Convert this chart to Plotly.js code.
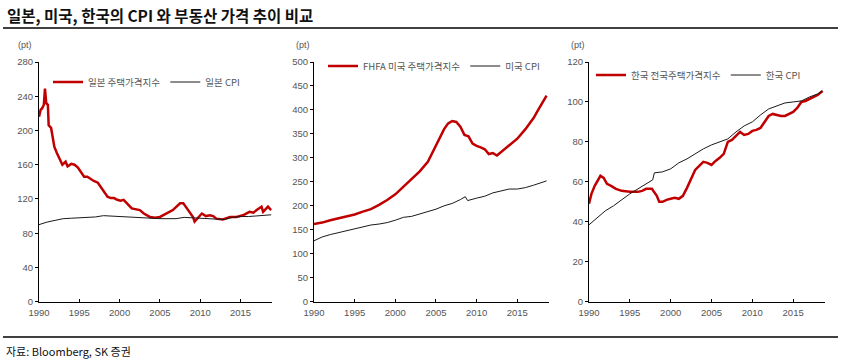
<!DOCTYPE html>
<html><head><meta charset="utf-8">
<script src="https://cdn.plot.ly/plotly-3.0.1.min.js"></script>
<style>html,body{margin:0;padding:0;background:#fff;}#chart{width:843px;height:363px;}</style>
</head><body><div id="chart"></div>
<script>
// ---------- Data (decimal years) ----------
const jpHouseX = [1990.0,1990.2,1990.4,1990.6,1990.74,1990.9,1991.1,1991.2,1991.5,1991.7,1991.9,1992.2,1992.5,1992.9,1993.3,1993.55,1994.0,1994.4,1994.8,1995.2,1995.6,1996.0,1996.4,1996.8,1997.3,1997.7,1998.1,1998.5,1998.9,1999.3,1999.7,2000.1,2000.5,2000.9,2001.5,2002.5,2003.0,2003.75,2004.4,2005.0,2005.8,2006.6,2007.5,2007.9,2008.5,2009.1,2009.3,2009.7,2010.2,2010.7,2011.2,2011.6,2012.0,2012.8,2013.7,2014.5,2015.3,2016.1,2016.6,2017.0,2017.6,2017.8,2018.1,2018.4,2018.8];
const jpHouse  = [216,224,226,230,249,232,230,206,203,189,181,174,168,160,163.5,158,161,160,157,152,146,146,143,141,139,133,128,122.6,121,121,119,118,119,115,109,107,103,99,98,99,103,107,115,115,107,99,93.5,98,103,100,101,100,97,96,99,99,101,105,104,107,111,105,108,111,107];
const jpCpiX = [1990,1991,1992,1993,1994,1995,1996,1997,1998,1999,2000,2001,2002,2003,2004,2005,2006,2007,2008,2009,2010,2011,2012,2013,2014,2015,2016,2017,2018,2018.8];
const jpCpi  = [90,93,95,97,97.5,98,98,99,100.5,100,99.5,99,98,97.5,97,97,97,97,98.5,98,97,97,96.5,96,98.5,99.5,99.5,100,101,101.5];

const usHouseX = [1990,1991,1992,1993,1994,1995,1996,1997,1998,1999,2000,2001,2002,2003,2004,2005,2006,2006.5,2007,2007.5,2008,2008.5,2009,2009.5,2010,2010.5,2011,2011.5,2012,2012.5,2013,2014,2015,2016,2017,2017.5,2018,2018.6];
const usHouse  = [162,165,170,174,178,182,188,193,202,212,224,240,257,272,292,325,360,372,377,375,365,348,345,330,325,322,318,308,310,305,312,325,340,360,383,398,412,430];
const usCpiX = [1990,1991,1992,1993,1994,1995,1996,1997,1998,1999,2000,2001,2002,2003,2004,2005,2006,2007,2008,2008.6,2008.9,2009.5,2010,2011,2012,2013,2014,2015,2016,2017,2018,2018.6];
const usCpi  = [127,135,140,144,148,152,156,160,162,165,170,176,178,183,187,193,200,205,213,219,211,213,216,220,227,231,235,235,238,243,249,252];

const krHouseX = [1990,1990.3,1990.7,1991.0,1991.4,1991.8,1992.2,1992.7,1993.3,1994,1995,1996,1996.5,1997,1997.7,1998.3,1998.6,1999,1999.5,2000,2000.5,2001,2001.5,2002,2002.5,2003,2003.5,2004,2004.5,2005,2005.5,2006,2006.5,2007,2007.5,2008,2008.5,2009,2009.5,2010,2010.5,2011,2011.5,2012,2012.5,2013,2013.5,2014,2014.5,2015,2015.5,2016,2016.5,2017,2017.5,2018,2018.6];
const krHouse  = [49,54,58,60,63,62,59,58,56.5,55.5,55,55,55.5,56.5,56.5,53,50,50,51,51.5,52,51.5,53,57,62,66,68,70,69.5,68.5,70.5,72,74,80,81,83,85,83.5,84,85.5,86,87,90,93,94,93.5,93,93,94,95,97,100,100.5,101.5,102.5,103.5,105.5];
const krCpiX = [1990,1991,1992,1993,1994,1995,1996,1997,1997.8,1998.0,1999,2000,2001,2002,2003,2004,2005,2006,2007,2008,2009,2010,2011,2012,2013,2014,2015,2016,2017,2018,2018.6];
const krCpi  = [38.5,42,45.5,48,51,54,56.5,59,61,64.5,65,66.5,69.5,71.5,74,76.5,78.5,80,81.5,85,88,90,93.5,96.5,98,99.5,100,100.5,102.5,104,105.5];

const names = ["일본 주택가격지수","일본 CPI","FHFA 미국 주택가격지수","미국 CPI","한국 전국주택가격지수","한국 CPI"];
const xTicks = [1990,1995,2000,2005,2010,2015];
const yRanges = [[0,280],[0,500],[0,120]];
const yDtick = [40,50,20];
// ---------------------------------------------

const RED = '#c00000', BLK = '#1a1a1a';
const FONT = 'Liberation Sans, Arial, sans-serif';
const KFONT = 'Noto Sans CJK KR, sans-serif';

function tr(x,y,name,color,w,ax,lg){
  return {x:x,y:y,name:name,type:'scatter',mode:'lines',line:{color:color,width:w},
    xaxis:'x'+ax,yaxis:'y'+ax,legend:lg,hoverinfo:'skip'};
}
const data = [
  tr(jpHouseX,jpHouse,names[0],RED,2.5,'','legend'),
  tr(jpCpiX,jpCpi,names[1],BLK,1,'','legend'),
  tr(usHouseX,usHouse,names[2],RED,2.5,'2','legend2'),
  tr(usCpiX,usCpi,names[3],BLK,1,'2','legend2'),
  tr(krHouseX,krHouse,names[4],RED,2.5,'3','legend3'),
  tr(krCpiX,krCpi,names[5],BLK,1,'3','legend3')
];

const W=843,H=363;
const yDom=[1-301.7/H, 1-62/H];
const xDoms=[[39/W,272/W],[314/W,549/W],[589/W,825/W]];

function xax(i){
  return {domain:xDoms[i],range:[1990,2018.9],tickvals:xTicks,ticks:'inside',ticklen:3,tickcolor:'#000',
    showline:true,linecolor:'#000',linewidth:1,showgrid:false,zeroline:false,ticklabelstandoff:2,
    tickfont:{family:FONT,size:9.5,color:'#555'},anchor:i===0?'y':'y'+(i+1),fixedrange:true};
}
function yax(i){
  return {domain:yDom,range:yRanges[i],dtick:yDtick[i],ticks:'outside',ticklen:3,tickcolor:'#000',
    showline:true,linecolor:'#000',linewidth:1,showgrid:false,zeroline:false,
    tickfont:{family:FONT,size:9.5,color:'#555'},anchor:i===0?'x':'x'+(i+1),fixedrange:true};
}
function leg(x,y){
  return {x:x,y:y,xanchor:'left',yanchor:'middle',orientation:'h',bgcolor:'rgba(0,0,0,0)',
    font:{family:KFONT,size:9.5,color:'#555'},itemwidth:30,tracegroupgap:0};
}

const layout = {
  width:W,height:H,margin:{l:0,r:0,t:0,b:0},paper_bgcolor:'#fff',plot_bgcolor:'#fff',
  showlegend:true,
  xaxis:xax(0),yaxis:yax(0),xaxis2:xax(1),yaxis2:yax(1),xaxis3:xax(2),yaxis3:yax(2),
  legend:leg(48/W,1-82/H),legend2:leg(323/W,1-66/H),legend3:leg(591/W,1-75/H),
  shapes:[
    {type:'line',xref:'paper',yref:'paper',x0:3/W,x1:838/W,y0:1-28/H,y1:1-28/H,line:{color:'#000',width:1.5}},
    {type:'line',xref:'paper',yref:'paper',x0:3/W,x1:838/W,y0:1-337/H,y1:1-337/H,line:{color:'#000',width:1.5}}
  ],
  annotations:[
    {text:'<b>일본, 미국, 한국의 CPI 와 부동산 가격 추이 비교</b>',xref:'paper',yref:'paper',x:5/W,y:1-15/H,xanchor:'left',yanchor:'middle',showarrow:false,font:{family:KFONT,size:15.5,color:'#111'}},
    {text:'(pt)',xref:'paper',yref:'paper',x:25/W,y:1-45/H,xanchor:'center',yanchor:'middle',showarrow:false,font:{family:FONT,size:9,color:'#555'}},
    {text:'(pt)',xref:'paper',yref:'paper',x:303/W,y:1-45/H,xanchor:'center',yanchor:'middle',showarrow:false,font:{family:FONT,size:9,color:'#555'}},
    {text:'(pt)',xref:'paper',yref:'paper',x:578/W,y:1-45/H,xanchor:'center',yanchor:'middle',showarrow:false,font:{family:FONT,size:9,color:'#555'}},
    {text:'자료: Bloomberg, SK 증권',xref:'paper',yref:'paper',x:4/W,y:1-351/H,xanchor:'left',yanchor:'middle',showarrow:false,font:{family:KFONT,size:11,color:'#111'}}
  ]
};
Plotly.newPlot('chart',data,layout,{displayModeBar:false,staticPlot:true});
</script></body></html>
